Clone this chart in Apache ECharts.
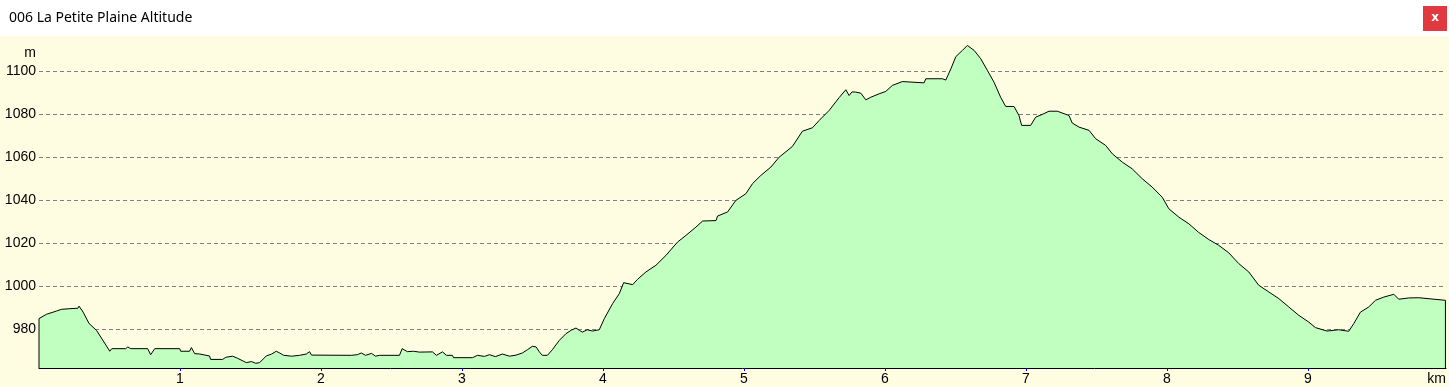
<!DOCTYPE html>
<html>
<head>
<meta charset="utf-8">
<script src="https://cdn.jsdelivr.net/npm/echarts@6/dist/echarts.min.js"></script>
<style>
  html, body { margin: 0; padding: 0; }
  #chart { width: 1449px; height: 387px; background: linear-gradient(#ffffff 0, #ffffff 36px, #FFFDE1 36px, #FFFDE1 100%); }
</style>
</head>
<body>
<div id="chart"></div>
<script>
const chartTitle = '006 La Petite Plaine Altitude';
const yUnit = 'm';
const xUnit = 'km';
const xTicks = [1, 2, 3, 4, 5, 6, 7, 8, 9];
const yTicks = [980, 1000, 1020, 1040, 1060, 1080, 1100];
const yMin = 962;
const yMax = 1116.5;
const xMin = 0;
const xMax = 9.98;

const distanceKm = [
  0.000, 0.053, 0.124, 0.159, 0.218, 0.275, 0.284, 0.313, 0.355, 0.408,
  0.452, 0.502, 0.516, 0.615, 0.630, 0.651, 0.771, 0.792, 0.821, 0.998,
  1.005, 1.068, 1.081, 1.104, 1.140, 1.147, 1.210, 1.217, 1.303, 1.325,
  1.374, 1.409, 1.471, 1.508, 1.537, 1.565, 1.612, 1.650, 1.683, 1.707,
  1.735, 1.792, 1.848, 1.896, 1.919, 1.933, 2.215, 2.224, 2.259, 2.286,
  2.316, 2.359, 2.387, 2.415, 2.557, 2.576, 2.613, 2.656, 2.698, 2.791,
  2.819, 2.862, 2.890, 2.933, 2.940, 3.075, 3.110, 3.159, 3.195, 3.237,
  3.287, 3.337, 3.384, 3.429, 3.464, 3.500, 3.526, 3.549, 3.570, 3.606,
  3.641, 3.691, 3.738, 3.776, 3.809, 3.833, 3.854, 3.889, 3.925, 3.974,
  4.010, 4.069, 4.116, 4.147, 4.211, 4.246, 4.305, 4.376, 4.447, 4.529,
  4.589, 4.660, 4.707, 4.802, 4.813, 4.884, 4.943, 5.014, 5.061, 5.120,
  5.191, 5.250, 5.344, 5.415, 5.486, 5.534, 5.605, 5.675, 5.723, 5.746,
  5.767, 5.794, 5.829, 5.865, 5.900, 5.959, 6.006, 6.053, 6.124, 6.278,
  6.290, 6.408, 6.432, 6.468, 6.503, 6.550, 6.585, 6.633, 6.680, 6.727,
  6.774, 6.821, 6.857, 6.916, 6.951, 6.970, 7.034, 7.069, 7.116, 7.164,
  7.223, 7.235, 7.306, 7.329, 7.377, 7.448, 7.495, 7.566, 7.613, 7.684,
  7.754, 7.825, 7.896, 7.967, 8.014, 8.085, 8.156, 8.226, 8.297, 8.368,
  8.439, 8.510, 8.581, 8.652, 8.723, 8.794, 8.865, 8.936, 9.006, 9.054,
  9.136, 9.219, 9.290, 9.326, 9.373, 9.432, 9.480, 9.539, 9.610, 9.645,
  9.716, 9.787, 9.881, 9.976
];

const altitudeM = [
  985.0, 987.0, 988.5, 989.3, 989.6, 989.8, 990.8, 988.0, 982.7, 979.5,
  975.0, 969.8, 971.0, 971.0, 971.8, 971.0, 971.0, 968.2, 971.0, 971.0,
  969.8, 969.8, 971.5, 968.7, 968.5, 967.6, 967.6, 966.0, 966.0, 967.0,
  967.5, 966.5, 964.5, 965.0, 964.2, 964.5, 967.6, 968.5, 969.8, 969.0,
  967.9, 967.5, 967.9, 968.5, 969.6, 968.0, 967.9, 967.1, 968.2, 969.0,
  967.9, 968.8, 967.5, 967.9, 967.9, 971.0, 969.6, 969.8, 969.4, 969.5,
  967.9, 969.5, 967.9, 967.9, 966.8, 966.8, 967.9, 967.4, 968.2, 967.3,
  968.5, 967.5, 968.0, 969.0, 970.5, 972.1, 971.8, 969.5, 967.9, 967.9,
  970.5, 974.9, 978.0, 979.6, 980.6, 979.5, 978.7, 979.8, 979.2, 979.8,
  985.0, 992.0, 996.6, 1001.7, 1000.8, 1003.3, 1006.7, 1009.8, 1014.4, 1020.6,
  1023.7, 1027.6, 1030.4, 1030.6, 1032.7, 1034.6, 1040.0, 1043.1, 1047.8, 1051.6,
  1055.5, 1060.1, 1065.1, 1072.2, 1073.8, 1077.2, 1081.9, 1087.8, 1091.5, 1088.8,
  1090.5, 1090.4, 1089.9, 1086.8, 1088.0, 1089.6, 1090.7, 1093.5, 1095.3, 1094.7,
  1096.6, 1096.6, 1096.0, 1101.2, 1106.9, 1109.8, 1112.1, 1109.8, 1105.9, 1100.5,
  1095.0, 1088.0, 1083.7, 1083.7, 1079.5, 1074.9, 1074.9, 1078.7, 1080.0, 1081.5,
  1081.5, 1080.6, 1079.5, 1076.0, 1074.1, 1072.6, 1068.7, 1065.6, 1061.7, 1057.8,
  1054.7, 1050.1, 1046.2, 1041.5, 1036.1, 1032.2, 1029.1, 1025.1, 1021.8, 1019.1,
  1015.6, 1010.6, 1006.7, 1000.5, 997.4, 994.3, 990.4, 986.5, 983.4, 980.8,
  979.2, 979.8, 979.1, 982.7, 988.0, 990.4, 993.5, 995.0, 996.3, 994.0,
  994.6, 994.7, 994.1, 993.5
];

// profile closed down to the base of the axis at both ends
const profile = [[distanceKm[0], yMin]]
  .concat(distanceKm.map((d, i) => [d, altitudeM[i]]))
  .concat([[distanceKm[distanceKm.length - 1], yMin]]);

const chart = echarts.init(document.getElementById('chart'), null, { renderer: 'canvas' });
const axisFont = '"Liberation Sans", Arial, sans-serif';

chart.setOption({
  animation: false,
  backgroundColor: 'transparent',
  grid: { left: 39, right: 2, top: 36, bottom: 19, containLabel: false },
  graphic: [
    {
      type: 'text', left: 9, top: 11,
      style: { text: chartTitle, fill: '#000', font: '14px "Noto Sans", "Open Sans", sans-serif' }
    },
    {
      type: 'group', right: 2, top: 6,
      children: [
        { type: 'rect', shape: { x: 0, y: 0, width: 24, height: 25 }, style: { fill: '#E0393F' } },
        { type: 'text', x: 12, y: 12, style: { text: 'x', fill: '#fff', font: 'bold 12px "DejaVu Sans", sans-serif', align: 'center', verticalAlign: 'middle' } }
      ]
    }
  ],
  xAxis: {
    type: 'value',
    min: xMin,
    max: xMax,
    name: xUnit,
    nameLocation: 'end',
    nameGap: 0,
    nameTextStyle: { color: '#000', fontFamily: axisFont, fontSize: 14, align: 'right', verticalAlign: 'top', padding: [4, 0, 0, 0] },
    axisLine: { show: true, onZero: false, lineStyle: { color: '#000', width: 1 } },
    axisTick: { show: true, customValues: xTicks, length: 3, lineStyle: { color: '#0000FF', width: 1 } },
    axisLabel: { customValues: xTicks, color: '#000', fontFamily: axisFont, fontSize: 14, margin: 4 },
    splitLine: { show: false }
  },
  yAxis: {
    type: 'value',
    min: yMin,
    max: yMax,
    name: yUnit,
    nameLocation: 'end',
    nameGap: -17,
    nameTextStyle: { color: '#000', fontFamily: axisFont, fontSize: 14, align: 'right', verticalAlign: 'middle', padding: [0, 3, 0, 0] },
    axisLine: { show: false },
    axisTick: { show: false, customValues: yTicks },
    axisLabel: { customValues: yTicks, formatter: (v) => String(v), color: '#000', fontFamily: axisFont, fontSize: 14, margin: 3 },
    splitLine: { show: true, lineStyle: { color: '#808080', width: 1, type: [4, 3] } }
  },
  series: [
    {
      type: 'line',
      data: profile,
      showSymbol: false,
      clip: false,
      lineStyle: { color: '#000', width: 1 },
      areaStyle: { color: '#C0FFC0', opacity: 1 },
      z: 3
    }
  ]
});
</script>
</body>
</html>
